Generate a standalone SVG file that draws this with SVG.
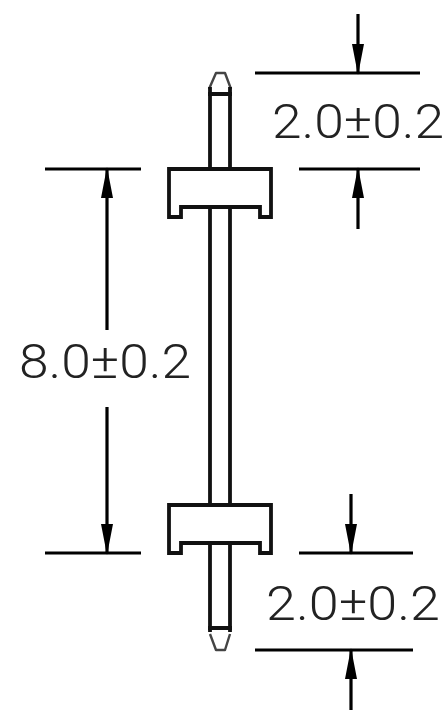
<svg xmlns="http://www.w3.org/2000/svg" width="448" height="710" viewBox="0 0 448 710">
<style>
.l{stroke:#000;stroke-width:3.2;fill:none}
.s{stroke:#111;stroke-width:3.8;fill:#fff}
.p{stroke:#111;stroke-width:3.8;fill:none}
.t{stroke:#444;stroke-width:2.4;fill:#fff;stroke-linejoin:round}
.a{fill:#000}
text{font-family:"Roboto","Liberation Sans",sans-serif;font-weight:300;font-size:49px;fill:#222}
</style>
<rect width="448" height="710" fill="#fff"/>
<g id="pin">
<path class="t" d="M209 89L216 73H225L231 89"/>
<path class="p" d="M210 87V169M230 87V169M208 94H232M210 207V505M230 207V505M210 543V632M230 543V632M208 628H232"/>
<path class="t" d="M210 634L216 650H225L230 634"/>
</g>
<g id="housing-top">
<path class="s" d="M169 169H271V217H260V207H181V217H169Z"/>
</g>
<g id="housing-bottom">
<path class="s" d="M169 505H271V553H260V543H181V553H169Z"/>
</g>
<g id="connectors">
<path class="l" d="M255 73H420M299 169H420M358 14V73M358 169V229"/>
<path class="a" d="M358 75L352 44H364ZM358 167L352 198H364Z"/>
<path class="l" d="M45 169H141M45 553H141M107 169V330M107 407V553"/>
<path class="a" d="M107 167L101 198H113ZM107 555L101 524H113Z"/>
<path class="l" d="M299 553H413M255 650H413M351 494V553M351 650V710"/>
<path class="a" d="M351 555L345 524H357ZM351 648L345 679H357Z"/>
</g>
<g id="labels">
<text x="272" y="138" textLength="172" lengthAdjust="spacingAndGlyphs">2.0±0.2</text>
<text x="19" y="378" textLength="172" lengthAdjust="spacingAndGlyphs">8.0±0.2</text>
<text x="266" y="620" textLength="174" lengthAdjust="spacingAndGlyphs">2.0±0.2</text>
</g>
</svg>
